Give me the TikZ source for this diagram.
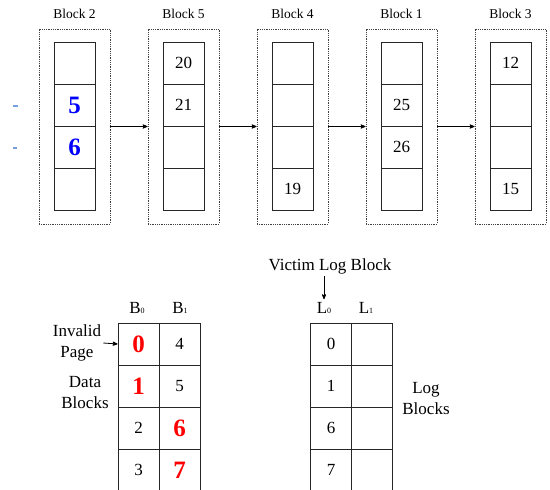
\documentclass[tikz,border=0pt]{standalone}
\usepackage{fontspec}
\setmainfont{Liberation Serif}
\usetikzlibrary{arrows,positioning}
\definecolor{tickblue}{RGB}{120,160,225}
\newcommand{\bluenum}[1]{{\color{blue}\bfseries\fontsize{25}{25}\selectfont #1}}
\newcommand{\rednum}[1]{{\color{red}\bfseries\fontsize{25}{25}\selectfont #1}}
\newcommand{\idx}[1]{{\fontsize{8}{8}\selectfont #1}}
\tikzset{
	>=stealth',
	cell/.style={
		draw=black!85, line width=0.9pt,
		minimum width=41pt, minimum height=42pt,
		inner sep=0pt, font=\fontsize{17}{20}\selectfont
	},
	blockbox/.style={
		draw=black!75, densely dotted, line width=0.8pt,
		minimum width=71pt, minimum height=195pt, inner sep=0pt
	}
}

\begin{document}
\begin{tikzpicture}[x=1pt,y=-1pt]
  \tikzset{
    blocklabel/.style={font=\fontsize{13.5}{15}\selectfont, inner sep=1pt},
    head/.style={font=\fontsize{17}{20}\selectfont, inner sep=1pt},
    note/.style={font=\fontsize{17}{21}\selectfont, align=center, inner sep=2pt},
    tick/.style={draw=tickblue, line width=1.5pt}
  }
  \useasboundingbox (0,0) rectangle (550,490);

  % the chain of blocks
  \foreach \i/\blk/\pa/\pb/\pc/\pd [evaluate=\i as \x using 74.5+109*\i] in
      {0/2//\bluenum{5}/\bluenum{6}/, 1/5/20/21//, 2/4////19, 3/1//25/26/, 4/3/12///15} {
    \node[blockbox] (box\blk) at (\x,126.5) {};
    \node[blocklabel] (lab\blk) at (\x,14) {Block \blk};
    \node[cell] (c\blk-1) at (\x,63) {\pa};
    \node[cell] (c\blk-2) at (\x,105) {\pb};
    \node[cell] (c\blk-3) at (\x,147) {\pc};
    \node[cell] (c\blk-4) at (\x,189) {\pd};
  }
  \foreach \a/\b in {2/5,5/4,4/1,1/3}
    \draw[->, line width=0.8pt] (box\a) -- (box\b);

  \draw[tick] (13,106) -- (18,106);
  \draw[tick] (13,148) -- (17,148);

  % data blocks
  \node[head] (hb0) at (137,308) {B\idx{0}};
  \node[head] (hb1) at (180,308) {B\idx{1}};
  \foreach \r/\p/\q in {1/\rednum{0}/4, 2/\rednum{1}/5, 3/2/\rednum{6}, 4/3/\rednum{7}} {
    \node[cell] (b0-\r) at (138.5,302+42*\r) {\p};
    \node[cell] (b1-\r) at (179.5,302+42*\r) {\q};
  }
  \node[note] (invalid) at (77,343) {Invalid\\Page};
  \draw[->, line width=0.8pt] (invalid.east) -- (b0-1.west);
  \node[note] (datablk) at (85,392.5) {Data\\Blocks};

  % log blocks
  \node[note] (victim) at (330,266) {Victim Log Block};
  \node[head] (hl0) at (324,308) {L\idx{0}};
  \node[head] (hl1) at (366,308) {L\idx{1}};
  \draw[->, line width=0.8pt, shorten >=2pt] (victim.south -| hl0) -- (hl0.north);
  \foreach \r/\p in {1/0, 2/1, 3/6, 4/7} {
    \node[cell] (l0-\r) at (331,302+42*\r) {\p};
    \node[cell] (l1-\r) at (372,302+42*\r) {};
  }
  \node[note] (logblk) at (426,399) {Log\\Blocks};
\end{tikzpicture}
\end{document}
